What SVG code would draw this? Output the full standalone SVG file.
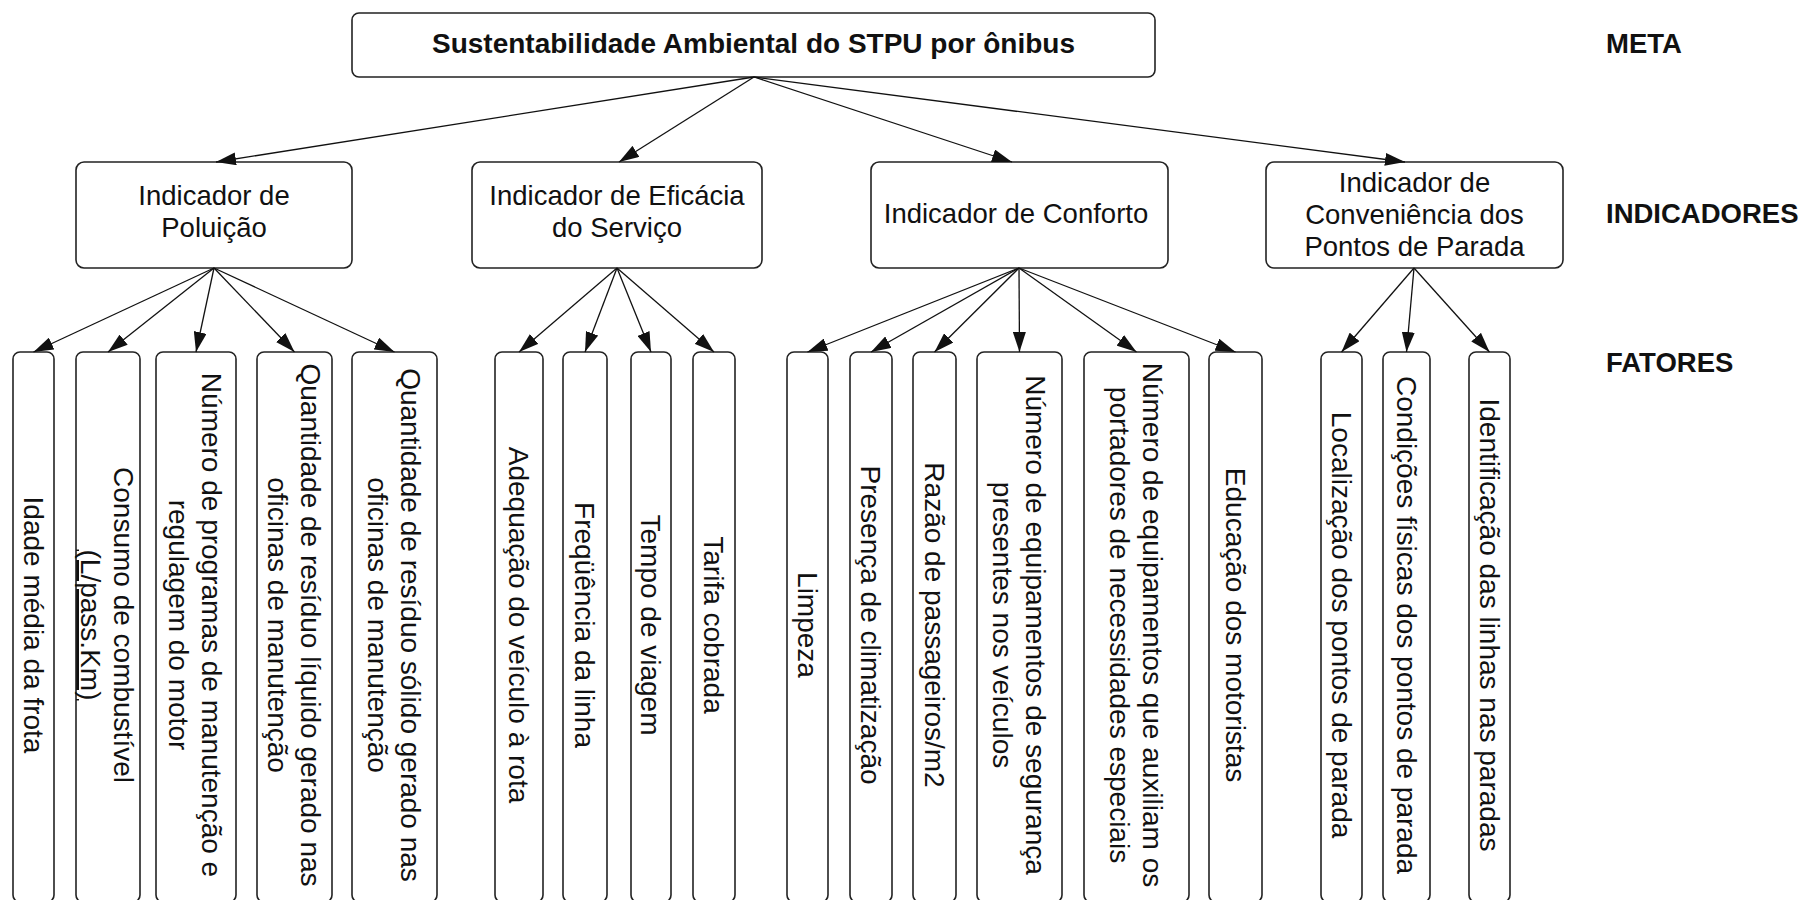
<svg xmlns="http://www.w3.org/2000/svg" width="1809" height="900" viewBox="0 0 1809 900">
  <style>
    .box { fill: #ffffff; stroke: #222222; stroke-width: 1.6; }
    .title { font-family: "Liberation Sans", Arial, sans-serif; font-size: 28px; font-weight: bold; fill: #111111; text-anchor: middle; }
    .it { font-family: "Liberation Sans", Arial, sans-serif; font-size: 27.5px; fill: #111111; text-anchor: middle; }
    .ft { font-family: "Liberation Sans", Arial, sans-serif; font-size: 28px; fill: #111111; text-anchor: middle; }
    .lvl { font-family: "Liberation Sans", Arial, sans-serif; font-size: 27.5px; font-weight: bold; fill: #111111; }
    .conn line { stroke: #111111; stroke-width: 1.3; marker-end: url(#arrow); }
  </style>
  <defs>
    <marker id="arrow" markerUnits="userSpaceOnUse" markerWidth="20" markerHeight="13" refX="20" refY="6.5" orient="auto">
      <path d="M0,0 L20,6.5 L0,13 z" fill="#111111"/>
    </marker>
  </defs>

  <rect width="1809" height="900" fill="#ffffff"/>

  <!-- level labels -->
  <text class="lvl" x="1606" y="53">META</text>
  <text class="lvl" x="1606" y="223">INDICADORES</text>
  <text class="lvl" x="1606" y="372">FATORES</text>

  <!-- goal -->
  <g id="meta">
    <rect class="box" x="352" y="13" width="803" height="64" rx="7"/>
    <text class="title" x="753.5" y="53">Sustentabilidade Ambiental do STPU por ônibus</text>
  </g>

  <!-- indicators -->
  <g id="ind-poluicao">
    <rect class="box" x="76" y="162" width="276" height="106" rx="8"/>
    <text class="it" x="214" y="205">Indicador de</text>
    <text class="it" x="214" y="237">Poluição</text>
  </g>
  <g id="ind-eficacia">
    <rect class="box" x="472" y="162" width="290" height="106" rx="8"/>
    <text class="it" x="617" y="205">Indicador de Eficácia</text>
    <text class="it" x="617" y="237">do Serviço</text>
  </g>
  <g id="ind-conforto">
    <rect class="box" x="871" y="162" width="297" height="106" rx="8"/>
    <text class="it" x="1016" y="223">Indicador de Conforto</text>
  </g>
  <g id="ind-conveniencia">
    <rect class="box" x="1266" y="162" width="297" height="106" rx="8"/>
    <text class="it" x="1414.5" y="192">Indicador de</text>
    <text class="it" x="1414.5" y="224">Conveniência dos</text>
    <text class="it" x="1414.5" y="256">Pontos de Parada</text>
  </g>

  <!-- factors (text runs top to bottom) -->
  <g id="f01">
    <rect class="box" x="13" y="352" width="41" height="550" rx="7"/>
    <text class="ft" transform="translate(33.5,625) rotate(90)"><tspan x="0" y="10">Idade média da frota</tspan></text>
  </g>
  <g id="f02">
    <rect class="box" x="76" y="352" width="64" height="550" rx="7"/>
    <text class="ft" transform="translate(108,625) rotate(90)"><tspan x="0" y="-6">Consumo de combustível</tspan><tspan x="0" y="27" text-decoration="underline">(L/pass.Km)</tspan></text>
  </g>
  <g id="f03">
    <rect class="box" x="156" y="352" width="80" height="550" rx="7"/>
    <text class="ft" transform="translate(196,625) rotate(90)"><tspan x="0" y="-6">Número de programas de manutenção e</tspan><tspan x="0" y="27">regulagem do motor</tspan></text>
  </g>
  <g id="f04">
    <rect class="box" x="257" y="352" width="75" height="550" rx="7"/>
    <text class="ft" transform="translate(294.5,625) rotate(90)"><tspan x="0" y="-6">Quantidade de resíduo líquido gerado nas</tspan><tspan x="0" y="27">oficinas de manutenção</tspan></text>
  </g>
  <g id="f05">
    <rect class="box" x="352" y="352" width="85" height="550" rx="7"/>
    <text class="ft" transform="translate(394.5,625) rotate(90)"><tspan x="0" y="-6">Quantidade de resíduo sólido gerado nas</tspan><tspan x="0" y="27">oficinas de manutenção</tspan></text>
  </g>
  <g id="f06">
    <rect class="box" x="495" y="352" width="48" height="550" rx="7"/>
    <text class="ft" transform="translate(519,625) rotate(90)"><tspan x="0" y="10">Adequação do veículo à rota</tspan></text>
  </g>
  <g id="f07">
    <rect class="box" x="563" y="352" width="44" height="550" rx="7"/>
    <text class="ft" transform="translate(585,625) rotate(90)"><tspan x="0" y="10">Freqüência da linha</tspan></text>
  </g>
  <g id="f08">
    <rect class="box" x="631" y="352" width="40" height="550" rx="7"/>
    <text class="ft" transform="translate(651,625) rotate(90)"><tspan x="0" y="10">Tempo de viagem</tspan></text>
  </g>
  <g id="f09">
    <rect class="box" x="693" y="352" width="42" height="550" rx="7"/>
    <text class="ft" transform="translate(714,625) rotate(90)"><tspan x="0" y="10">Tarifa cobrada</tspan></text>
  </g>
  <g id="f10">
    <rect class="box" x="787" y="352" width="41" height="550" rx="7"/>
    <text class="ft" transform="translate(807.5,625) rotate(90)"><tspan x="0" y="10">Limpeza</tspan></text>
  </g>
  <g id="f11">
    <rect class="box" x="850" y="352" width="42" height="550" rx="7"/>
    <text class="ft" transform="translate(871,625) rotate(90)"><tspan x="0" y="10">Presença de climatização</tspan></text>
  </g>
  <g id="f12">
    <rect class="box" x="913" y="352" width="43" height="550" rx="7"/>
    <text class="ft" transform="translate(934.5,625) rotate(90)"><tspan x="0" y="10">Razão de passageiros/m2</tspan></text>
  </g>
  <g id="f13">
    <rect class="box" x="977" y="352" width="85" height="550" rx="7"/>
    <text class="ft" transform="translate(1019.5,625) rotate(90)"><tspan x="0" y="-6">Número de equipamentos de segurança</tspan><tspan x="0" y="27">presentes nos veículos</tspan></text>
  </g>
  <g id="f14">
    <rect class="box" x="1084" y="352" width="105" height="550" rx="7"/>
    <text class="ft" transform="translate(1136.5,625) rotate(90)"><tspan x="0" y="-6">Número de equipamentos que auxiliam os</tspan><tspan x="0" y="27">portadores de necessidades especiais</tspan></text>
  </g>
  <g id="f15">
    <rect class="box" x="1209" y="352" width="53" height="550" rx="7"/>
    <text class="ft" transform="translate(1235.5,625) rotate(90)"><tspan x="0" y="10">Educação dos motoristas</tspan></text>
  </g>
  <g id="f16">
    <rect class="box" x="1321" y="352" width="41" height="550" rx="7"/>
    <text class="ft" transform="translate(1341.5,625) rotate(90)"><tspan x="0" y="10">Localização dos pontos de parada</tspan></text>
  </g>
  <g id="f17">
    <rect class="box" x="1383" y="352" width="47" height="550" rx="7"/>
    <text class="ft" transform="translate(1406.5,625) rotate(90)"><tspan x="0" y="10">Condições físicas dos pontos de parada</tspan></text>
  </g>
  <g id="f18">
    <rect class="box" x="1469" y="352" width="41" height="550" rx="7"/>
    <text class="ft" transform="translate(1489.5,625) rotate(90)"><tspan x="0" y="10">Identificação das linhas nas paradas</tspan></text>
  </g>

  <!-- connectors -->
  <g id="connectors" class="conn">
    <line x1="754" y1="77" x2="216" y2="162"/>
    <line x1="754" y1="77" x2="619" y2="162"/>
    <line x1="754" y1="77" x2="1012" y2="162"/>
    <line x1="754" y1="77" x2="1405" y2="162"/>

    <line x1="214" y1="268" x2="33.5" y2="352"/>
    <line x1="214" y1="268" x2="108" y2="352"/>
    <line x1="214" y1="268" x2="196" y2="352"/>
    <line x1="214" y1="268" x2="294.5" y2="352"/>
    <line x1="214" y1="268" x2="394.5" y2="352"/>

    <line x1="617" y1="268" x2="519" y2="352"/>
    <line x1="617" y1="268" x2="585" y2="352"/>
    <line x1="617" y1="268" x2="651" y2="352"/>
    <line x1="617" y1="268" x2="714" y2="352"/>

    <line x1="1019" y1="268" x2="807.5" y2="352"/>
    <line x1="1019" y1="268" x2="871" y2="352"/>
    <line x1="1019" y1="268" x2="934.5" y2="352"/>
    <line x1="1019" y1="268" x2="1019.5" y2="352"/>
    <line x1="1019" y1="268" x2="1136.5" y2="352"/>
    <line x1="1019" y1="268" x2="1235.5" y2="352"/>

    <line x1="1414" y1="268" x2="1341.5" y2="352"/>
    <line x1="1414" y1="268" x2="1406.5" y2="352"/>
    <line x1="1414" y1="268" x2="1489.5" y2="352"/>
  </g>
</svg>
